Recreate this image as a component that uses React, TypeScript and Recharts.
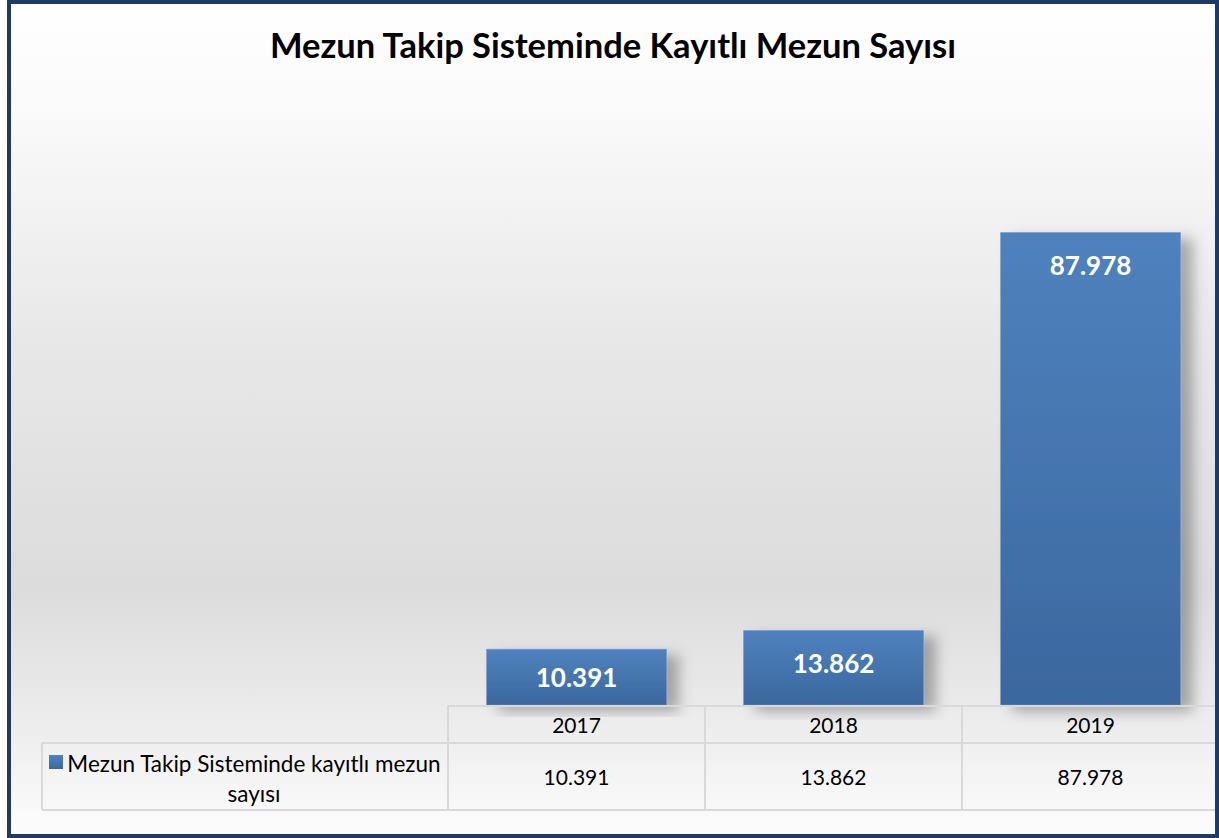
import React from 'react'
import { BarChart, Bar, XAxis, YAxis, LabelList } from 'recharts'

const title = 'Mezun Takip Sisteminde Kayıtlı Mezun Sayısı'
const seriesName = 'Mezun Takip Sisteminde kayıtlı mezun sayısı'
const years = ['2017', '2018', '2019']
const graduates = [10391, 13862, 87978]

const data = years.map((year, i) => ({ year, value: graduates[i] }))

const W = 1219
const H = 838
const margin = { top: 168, right: 0, bottom: 28, left: 448 }
const cellW = (W - margin.left - margin.right) / years.length
const FONT = 'Lato, Carlito, Calibri, sans-serif'
const gridColor = '#d9d9d9'

const fmt = (v: number) => v.toLocaleString('de-DE')

function TableTick(props: any) {
  const { x, y, payload, index } = props
  const left = x - cellW / 2
  const right = x + cellW / 2
  const rowY = y + 38
  const bottom = y + 105
  return (
    <g fontFamily={FONT}>
      <line x1={left} x2={right} y1={y + 1} y2={y + 1} stroke={gridColor} strokeWidth={2} />
      <line x1={left} x2={right} y1={rowY} y2={rowY} stroke={gridColor} strokeWidth={2} />
      <line x1={left} x2={right} y1={bottom} y2={bottom} stroke={gridColor} strokeWidth={2} />
      <line x1={left} x2={left} y1={y} y2={bottom} stroke={gridColor} strokeWidth={2} />
      <text x={x} y={y + 19} textAnchor="middle" dominantBaseline="central" fontSize={21} fill="#000">
        {payload.value}
      </text>
      <text x={x} y={y + 71} textAnchor="middle" dominantBaseline="central" fontSize={21} fill="#000">
        {fmt(graduates[index])}
      </text>
      {index === 0 && (
        <g>
          <line x1={42} x2={left} y1={rowY} y2={rowY} stroke={gridColor} strokeWidth={2} />
          <line x1={42} x2={left} y1={bottom} y2={bottom} stroke={gridColor} strokeWidth={2} />
          <line x1={42} x2={42} y1={rowY} y2={bottom} stroke={gridColor} strokeWidth={2} />
          <rect x={49} y={y + 50} width={14} height={14} fill="url(#barFill)" />
          <text x={254} y={y + 58} textAnchor="middle" dominantBaseline="central" fontSize={22.5} fill="#000">
            {seriesName.split(' ').slice(0, 5).join(' ')}
          </text>
          <text x={254} y={y + 88} textAnchor="middle" dominantBaseline="central" fontSize={22.5} fill="#000">
            {seriesName.split(' ').slice(5).join(' ')}
          </text>
        </g>
      )}
    </g>
  )
}

function BarValueLabel(props: any) {
  const { x, y, width, height, value } = props
  const cy = y + Math.min(32, height / 2)
  return (
    <text
      x={x + width / 2}
      y={cy}
      textAnchor="middle"
      dominantBaseline="central"
      fontFamily={FONT}
      fontWeight={700}
      fontSize={26}
      fill="#ffffff"
    >
      {fmt(value)}
    </text>
  )
}

export default function App() {
  return (
    <div
      style={{
        position: 'absolute',
        left: 0,
        top: 0,
        width: W,
        height: H,
        background: '#fff',
        fontFamily: FONT,
      }}
    >
      <div
        style={{
          position: 'absolute',
          left: 7,
          top: 0,
          width: W - 7,
          height: H,
          background:
            'linear-gradient(180deg, #ffffff 0%, #fbfbfb 12%, #e8e8e8 40%, #dcdcdc 70%, #ececec 86%, #fdfdfd 100%)',
        }}
      />
      <div
        style={{
          position: 'absolute',
          left: 7,
          width: W - 7,
          top: 24,
          textAlign: 'center',
          fontSize: 34.5,
          fontWeight: 700,
          color: '#000',
        }}
      >
        {title}
      </div>
      <div style={{ position: 'absolute', left: 0, top: 0 }}>
        <BarChart width={W} height={H} data={data} margin={margin} barCategoryGap="15%">
          <defs>
            <linearGradient id="barFill" x1="0" y1="0" x2="0" y2="1">
              <stop offset="0%" stopColor="#4f82be" />
              <stop offset="100%" stopColor="#3b679e" />
            </linearGradient>
            <filter id="barShadow" x="-20%" y="-20%" width="160%" height="140%">
              <feDropShadow dx={12} dy={6} stdDeviation={7} floodColor="#000" floodOpacity={0.3} />
            </filter>
          </defs>
          <XAxis
            dataKey="year"
            axisLine={false}
            tickLine={false}
            tickSize={0}
            tickMargin={0}
            height={105}
            interval={0}
            tick={<TableTick />}
          />
          <YAxis hide domain={[0, 100000]} />
          <Bar
            dataKey="value"
            fill="url(#barFill)"
            stroke="#6d97cc"
            strokeWidth={0.5}
            filter="url(#barShadow)"
            isAnimationActive={false}
          >
            <LabelList dataKey="value" content={<BarValueLabel />} />
          </Bar>
        </BarChart>
      </div>
      <div
        style={{
          position: 'absolute',
          left: 7,
          top: 0,
          width: W - 7,
          height: H,
          boxSizing: 'border-box',
          border: '4px solid #1f3a63',
          pointerEvents: 'none',
        }}
      />
    </div>
  )
}
